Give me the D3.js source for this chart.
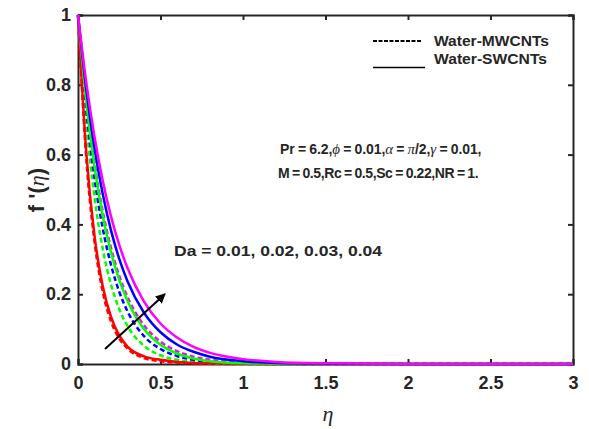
<!DOCTYPE html>
<html>
<head>
<meta charset="utf-8">
<script src="https://cdn.jsdelivr.net/npm/d3@7"></script>
<style>
  body { margin: 0; background: #fff; }
  svg text { font-family: "Liberation Sans", Arial, sans-serif; font-weight: bold; fill: #262626; }
  .greek { font-family: "Liberation Serif", "DejaVu Serif", serif; font-style: italic; font-weight: normal; }
</style>
</head>
<body>
<script>
// eta sample points
var eta = [0, 0.05, 0.1, 0.15, 0.2, 0.25, 0.3, 0.4, 0.5, 0.6, 0.7, 0.8, 1.0, 1.2, 1.5, 2, 2.5, 3];

// Da values
var daValues = [0.01, 0.02, 0.03, 0.04];
var colors = ["#ff0000", "#00ff00", "#0000ff", "#ff00ff"];

// Water-MWCNTs (dashed), one array per Da
var mwDa1 = [1, 0.59, 0.35, 0.207, 0.122, 0.073, 0.044, 0.017, 0.008, 0.004, 0.002, 0.001, 0, 0, 0, 0, 0, 0];
var mwDa2 = [1, 0.691, 0.477, 0.330, 0.228, 0.157, 0.109, 0.052, 0.025, 0.012, 0.006, 0.003, 0.001, 0, 0, 0, 0, 0];
var mwDa3 = [1, 0.730, 0.533, 0.389, 0.284, 0.207, 0.151, 0.080, 0.043, 0.023, 0.012, 0.006, 0.002, 0.001, 0, 0, 0, 0];
var mwDa4 = [1, 0.760, 0.577, 0.438, 0.333, 0.253, 0.192, 0.111, 0.064, 0.037, 0.021, 0.012, 0.004, 0.001, 0, 0, 0, 0];

// Water-SWCNTs (solid), one array per Da
var swDa1 = [1, 0.607, 0.368, 0.223, 0.135, 0.082, 0.050, 0.022, 0.012, 0.006, 0.003, 0.002, 0.001, 0, 0, 0, 0, 0];
var swDa2 = [1, 0.752, 0.566, 0.425, 0.320, 0.241, 0.181, 0.100, 0.055, 0.030, 0.016, 0.008, 0.002, 0.001, 0, 0, 0, 0];
var swDa3 = [1, 0.787, 0.619, 0.487, 0.383, 0.301, 0.237, 0.147, 0.091, 0.056, 0.035, 0.021, 0.008, 0.003, 0.001, 0, 0, 0];
var swDa4 = [1, 0.807, 0.651, 0.525, 0.423, 0.341, 0.275, 0.179, 0.116, 0.076, 0.049, 0.032, 0.014, 0.006, 0.002, 0, 0, 0];

var xTicks = [0, 0.5, 1, 1.5, 2, 2.5, 3];
var yTicks = [0, 0.2, 0.4, 0.6, 0.8, 1];

var mwSeries = [mwDa1, mwDa2, mwDa3, mwDa4];
var swSeries = [swDa1, swDa2, swDa3, swDa4];

var margin = { top: 15, right: 16, bottom: 65, left: 78 },
    width = 589 - margin.left - margin.right,
    height = 429 - margin.top - margin.bottom;

var x = d3.scaleLinear().domain([0, 3]).range([0, width]);
var y = d3.scaleLinear().domain([0, 1]).range([height, 0]);

var svg = d3.select("body").append("svg")
  .attr("width", 589)
  .attr("height", 429)
  .append("g")
  .attr("transform", "translate(" + margin.left + "," + margin.top + ")");

var axisColor = "#262626";

// Axes (ticks pointing inward), plus mirrored top/right
var xAxis = d3.axisBottom(x).tickValues(xTicks).tickSize(-5).tickPadding(12).tickFormat(d3.format("~g"));
var yAxis = d3.axisLeft(y).tickValues(yTicks).tickSize(-5).tickPadding(7).tickFormat(d3.format("~g"));

var gx = svg.append("g").attr("transform", "translate(0," + height + ")").call(xAxis);
var gy = svg.append("g").call(yAxis);
var gxt = svg.append("g").call(d3.axisTop(x).tickValues(xTicks).tickSize(-5).tickFormat(""));
var gyr = svg.append("g").attr("transform", "translate(" + width + ",0)")
  .call(d3.axisRight(y).tickValues(yTicks).tickSize(-5).tickFormat(""));

[gx, gy, gxt, gyr].forEach(function (g) {
  g.selectAll(".domain").attr("stroke", axisColor).attr("stroke-width", 2);
  g.selectAll(".tick line").attr("stroke", axisColor).attr("stroke-width", 2);
  g.selectAll(".tick text").style("font-size", "18px").style("font-family", "'Liberation Sans', Arial, sans-serif")
    .style("font-weight", "bold").attr("fill", axisColor);
});

// Lines
var line = d3.line()
  .x(function (d) { return x(d[0]); })
  .y(function (d) { return y(d[1]); })
  .curve(d3.curveMonotoneX);

function pairs(vals) {
  return eta.map(function (e, i) { return [e, vals[i]]; });
}

mwSeries.forEach(function (vals, i) {
  svg.append("path")
    .attr("d", line(pairs(vals)))
    .attr("fill", "none")
    .attr("stroke", colors[i])
    .attr("stroke-width", 2.5)
    .attr("stroke-dasharray", "5,3");
});

swSeries.forEach(function (vals, i) {
  svg.append("path")
    .attr("d", line(pairs(vals)))
    .attr("fill", "none")
    .attr("stroke", colors[i])
    .attr("stroke-width", 2.5);
});

// Axis labels
svg.append("text")
  .attr("x", 328 - margin.left)
  .attr("y", 421 - margin.top)
  .attr("text-anchor", "middle")
  .attr("class", "greek")
  .style("font-size", "22px")
  .text("η");

var ylab = svg.append("text")
  .attr("transform", "translate(" + (44 - margin.left) + "," + (190 - margin.top) + ") rotate(-90)")
  .attr("text-anchor", "middle")
  .style("font-size", "22px");
ylab.append("tspan").text("f '(");
ylab.append("tspan").attr("class", "greek").text("η");
ylab.append("tspan").text(")");

// Legend
var root = d3.select("svg");
root.append("line")
  .attr("x1", 373).attr("x2", 421).attr("y1", 41).attr("y2", 41)
  .attr("stroke", "#000").attr("stroke-width", 2).attr("stroke-dasharray", "4,1.5");
root.append("text").attr("x", 434).attr("y", 46).style("font-size", "15px").attr("fill", "#000")
  .attr("textLength", 115).attr("lengthAdjust", "spacingAndGlyphs").text("Water-MWCNTs");
root.append("line")
  .attr("x1", 373).attr("x2", 425).attr("y1", 67.5).attr("y2", 67.5)
  .attr("stroke", "#000").attr("stroke-width", 1.3);
root.append("text").attr("x", 434).attr("y", 64).style("font-size", "15px").attr("fill", "#000")
  .attr("textLength", 113).attr("lengthAdjust", "spacingAndGlyphs").text("Water-SWCNTs");

// Parameter annotation
var t1 = root.append("text").attr("x", 280).attr("y", 154).style("font-size", "14px").attr("fill", "#000")
  .style("letter-spacing", "-0.1px").style("word-spacing", "-0.5px");
t1.append("tspan").text("Pr = 6.2,");
t1.append("tspan").attr("class", "greek").style("font-size", "15px").text("ϕ");
t1.append("tspan").text(" = 0.01,");
t1.append("tspan").attr("class", "greek").style("font-size", "15px").text("α");
t1.append("tspan").text(" = ");
t1.append("tspan").attr("class", "greek").style("font-size", "15px").text("π");
t1.append("tspan").text("/2,");
t1.append("tspan").attr("class", "greek").style("font-size", "15px").text("γ");
t1.append("tspan").text(" = 0.01,");

root.append("text").attr("x", 278).attr("y", 178).style("font-size", "14px").attr("fill", "#000")
  .style("letter-spacing", "-0.4px").style("word-spacing", "-0.8px")
  .text("M = 0.5,Rc = 0.5,Sc = 0.22,NR = 1.");

root.append("text").attr("x", 174).attr("y", 256).style("font-size", "15px").attr("fill", "#000")
  .attr("textLength", 208).attr("lengthAdjust", "spacingAndGlyphs")
  .text("Da = " + daValues.map(function (d) { return d3.format(".2f")(d); }).join(", "));

// Arrow showing increasing Da
root.append("defs").append("marker")
  .attr("id", "arrowhead")
  .attr("viewBox", "0 0 10 10")
  .attr("refX", 9).attr("refY", 5)
  .attr("markerWidth", 5).attr("markerHeight", 5)
  .attr("orient", "auto")
  .append("path").attr("d", "M0,0 L10,5 L0,10 Z").attr("fill", "#000");

root.append("line")
  .attr("x1", 105).attr("y1", 349)
  .attr("x2", 165).attr("y2", 294)
  .attr("stroke", "#000").attr("stroke-width", 2)
  .attr("marker-end", "url(#arrowhead)");
</script>
</body>
</html>
